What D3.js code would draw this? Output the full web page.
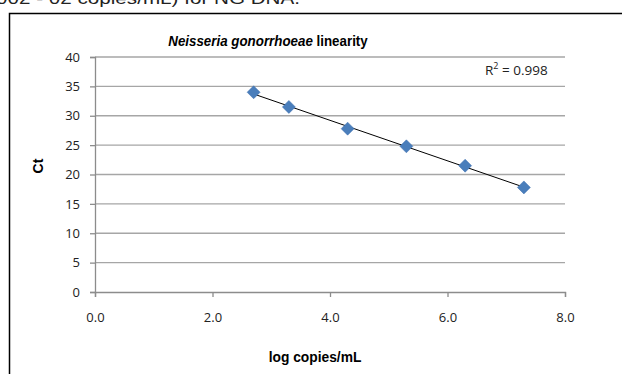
<!DOCTYPE html>
<html>
<head>
<meta charset="utf-8">
<script src="https://cdn.jsdelivr.net/npm/d3@7"></script>
<style>
  body { margin: 0; background: #fff; }
  svg { display: block; }
</style>
</head>
<body>
<svg id="chart" width="622" height="374"></svg>
<script>
// data
const logCopies = [2.7, 3.3, 4.3, 5.3, 6.3, 7.3];
const ctValues = [34.0, 31.5, 27.8, 24.8, 21.5, 17.8];
const xTicks = [0, 2, 4, 6, 8];
const yTicks = [0, 5, 10, 15, 20, 25, 30, 35, 40];
const rSquared = "0.998";

const svg = d3.select("#chart");

// plot box
const plotLeft = 95, plotRight = 565, plotTop = 57, plotBottom = 292;

const x = d3.scaleLinear().domain([0, 8]).range([plotLeft, plotRight]);
const y = d3.scaleLinear().domain([0, 40]).range([plotBottom, plotTop]);

// caption line cut off at the top of the page
svg.append("text")
    .attr("x", -4)
    .attr("y", 4)
    .attr("textLength", 304)
    .attr("lengthAdjust", "spacingAndGlyphs")
    .style("font-family", "Liberation Sans, Arial, sans-serif")
    .style("font-size", "16px")
    .style("fill", "#222")
    .text("002 - 02 copies/mL) for NG  DNA.");

// outer frame
svg.append("rect")
    .attr("x", 9.5)
    .attr("y", 13.5)
    .attr("width", 620)
    .attr("height", 400)
    .style("fill", "none")
    .style("stroke", "#000")
    .style("stroke-width", "1.5px");

// gridlines
svg.selectAll("line.grid")
    .data(yTicks.filter(d => d > 0))
    .enter()
    .append("line")
    .attr("class", "grid")
    .attr("x1", plotLeft)
    .attr("x2", plotRight)
    .attr("y1", d => y(d))
    .attr("y2", d => y(d))
    .style("stroke", "#a6a6a6")
    .style("stroke-width", "1.3px");

// y axis
const yAxis = svg.append("g")
    .attr("transform", `translate(${plotLeft},0)`)
    .call(d3.axisLeft(y).tickValues(yTicks).tickSize(5).tickPadding(10));
yAxis.select(".domain").style("stroke", "#8c8c8c").style("stroke-width", "1.3px");
yAxis.selectAll(".tick line").style("stroke", "#8c8c8c").style("stroke-width", "1.3px");
yAxis.selectAll(".tick text")
    .style("font-family", "Open Sans, Liberation Sans, sans-serif")
    .style("font-size", "13px")
    .style("fill", "#222");

// x axis
const xAxis = svg.append("g")
    .attr("transform", `translate(0,${plotBottom})`)
    .call(d3.axisBottom(x).tickValues(xTicks).tickFormat(d3.format(".1f")).tickSize(5).tickPadding(16));
xAxis.select(".domain").style("stroke", "#8c8c8c").style("stroke-width", "1.3px");
xAxis.selectAll(".tick line").style("stroke", "#8c8c8c").style("stroke-width", "1.3px");
xAxis.selectAll(".tick text")
    .style("font-family", "Open Sans, Liberation Sans, sans-serif")
    .style("font-size", "13px")
    .style("fill", "#222");

// least squares trend line
const n = logCopies.length;
const mx = d3.mean(logCopies), my = d3.mean(ctValues);
let sxy = 0, sxx = 0;
for (let i = 0; i < n; i++) {
    sxy += (logCopies[i] - mx) * (ctValues[i] - my);
    sxx += (logCopies[i] - mx) ** 2;
}
const slope = sxy / sxx;
const intercept = my - slope * mx;
const xMin = d3.min(logCopies), xMax = d3.max(logCopies);

svg.append("line")
    .attr("x1", x(xMin))
    .attr("y1", y(intercept + slope * xMin))
    .attr("x2", x(xMax))
    .attr("y2", y(intercept + slope * xMax))
    .style("stroke", "#000")
    .style("stroke-width", "1px");

// diamond markers
svg.selectAll("path.marker")
    .data(logCopies.map((d, i) => ({ x: d, y: ctValues[i] })))
    .enter()
    .append("path")
    .attr("class", "marker")
    .attr("transform", d => `translate(${x(d.x)},${y(d.y)})`)
    .attr("d", "M0,-6.5L6.5,0L0,6.5L-6.5,0Z")
    .style("fill", "#4a7ebb")
    .style("stroke", "#3d6fae")
    .style("stroke-width", "0.5px");

// R squared label
const rLabel = svg.append("text")
    .attr("x", 485)
    .attr("y", 75)
    .style("font-family", "Open Sans, Liberation Sans, sans-serif")
    .style("font-size", "13.5px")
    .style("fill", "#222");
rLabel.append("tspan").text("R");
rLabel.append("tspan").attr("dy", -6).style("font-size", "9px").text("2");
rLabel.append("tspan").attr("dy", 6).text(" = " + rSquared);

// title, narrowed to the condensed look of the original
const title = svg.append("text")
    .attr("transform", "translate(268,46) scale(0.89,1)")
    .attr("text-anchor", "middle")
    .style("font-family", "Liberation Sans, Arial, sans-serif")
    .style("font-size", "15px")
    .style("font-weight", "bold")
    .style("fill", "#000");
title.append("tspan").style("font-style", "italic").text("Neisseria gonorrhoeae");
title.append("tspan").text(" linearity");

// axis titles
svg.append("text")
    .attr("transform", "translate(315,362) scale(0.92,1)")
    .attr("text-anchor", "middle")
    .style("font-family", "Liberation Sans, Arial, sans-serif")
    .style("font-size", "15px")
    .style("font-weight", "bold")
    .text("log copies/mL");

svg.append("text")
    .attr("transform", "translate(43,166) rotate(-90)")
    .attr("text-anchor", "middle")
    .style("font-family", "Liberation Sans, Arial, sans-serif")
    .style("font-size", "14px")
    .style("font-weight", "bold")
    .text("Ct");
</script>
</body>
</html>
